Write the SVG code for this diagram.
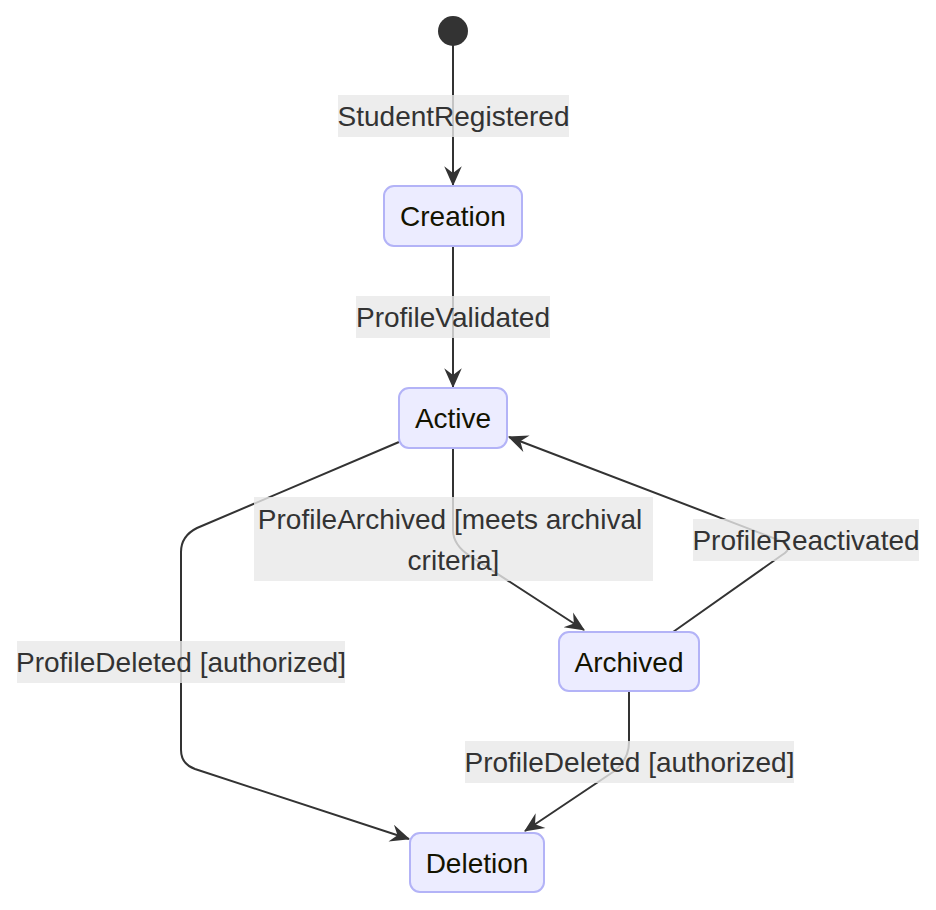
<svg xmlns="http://www.w3.org/2000/svg" width="936" height="910" viewBox="0 0 936 910">
<defs>
<style>
.edge{fill:none;stroke:#333;stroke-width:2}
.lbl{fill:#e8e8e8;opacity:0.8}
.lt{font-family:"Liberation Sans",Arial,sans-serif;font-size:28px;fill:#333;text-anchor:middle}
.node rect{fill:#ececff;stroke:#b3b3f7;stroke-width:2}
.nt{font-family:"Liberation Sans",Arial,sans-serif;font-size:28px;fill:#131300;text-anchor:middle}
</style>
<marker id="arr" markerUnits="userSpaceOnUse" viewBox="0 0 20 16" refX="19" refY="8" markerWidth="22" markerHeight="18" orient="auto">
<path d="M20,8 L2,0 L8,8 L2,16 Z" fill="#333"/>
</marker>
</defs>
<rect width="936" height="910" fill="#fff"/>
<g id="connectors">
<path class="edge" d="M453,45 L453,185" marker-end="url(#arr)"/>
<path class="edge" d="M453,246 L453,387" marker-end="url(#arr)"/>
<path class="edge" d="M453,448 L453,530 Q453,545 470,556 L584,630" marker-end="url(#arr)"/>
<path class="edge" d="M673,632 L782,555 Q795,547 781,541 L509,437" marker-end="url(#arr)"/>
<path class="edge" d="M399,442 L197,528 Q181,536 181,552 L181,750 Q181,764 195,769 L409,839" marker-end="url(#arr)"/>
<path class="edge" d="M629,691 L629,742 Q629,760 613,772 L525,831" marker-end="url(#arr)"/>
</g>
<g id="edge-labels">
<rect class="lbl" x="338" y="95" width="231" height="42"/>
<text class="lt" x="453.5" y="126">StudentRegistered</text>
<rect class="lbl" x="356" y="296" width="194" height="42"/>
<text class="lt" x="453" y="327">ProfileValidated</text>
<rect class="lbl" x="254" y="497" width="399" height="84"/>
<text class="lt" x="450" y="529">ProfileArchived [meets archival</text>
<text class="lt" x="453.5" y="570">criteria]</text>
<rect class="lbl" x="693" y="519" width="226" height="42"/>
<text class="lt" x="806" y="550">ProfileReactivated</text>
<rect class="lbl" x="17" y="641" width="328" height="42"/>
<text class="lt" x="181" y="672">ProfileDeleted [authorized]</text>
<rect class="lbl" x="465" y="741" width="329" height="42"/>
<text class="lt" x="629.5" y="772">ProfileDeleted [authorized]</text>
</g>
<g id="start"><circle cx="453" cy="31" r="15" fill="#333"/></g>
<g id="creation" class="node"><rect x="384" y="186" width="138" height="60" rx="10"/><text class="nt" x="453" y="226">Creation</text></g>
<g id="active" class="node"><rect x="399" y="388" width="108" height="60" rx="10"/><text class="nt" x="453" y="428">Active</text></g>
<g id="archived" class="node"><rect x="559" y="632" width="140" height="59" rx="10"/><text class="nt" x="629" y="672">Archived</text></g>
<g id="deletion" class="node"><rect x="410" y="833" width="134" height="59" rx="10"/><text class="nt" x="477" y="873">Deletion</text></g>
</svg>
